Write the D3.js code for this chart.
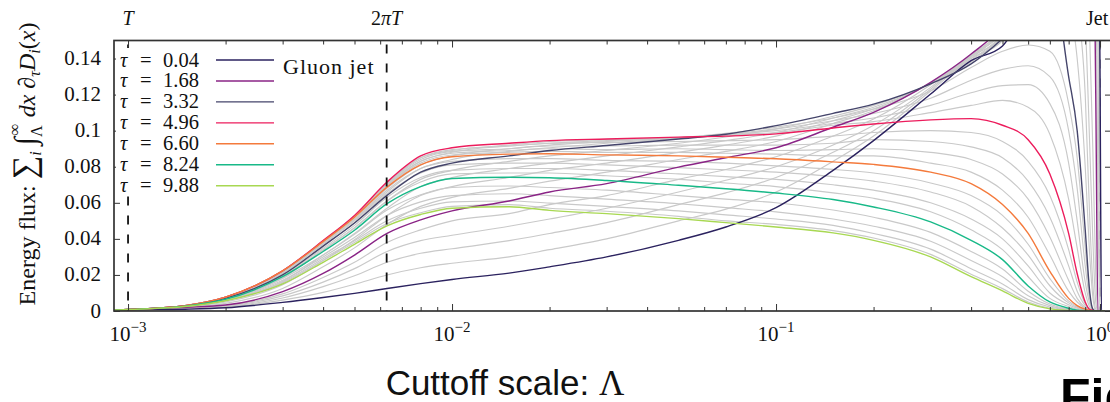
<!DOCTYPE html>
<html><head><meta charset="utf-8">
<script src="https://cdn.jsdelivr.net/npm/d3@7"></script>
<style>body{margin:0;background:#fff;} svg{display:block;}</style>
</head><body>
<svg id="chart" width="1110" height="402"></svg>
<script>
// Cutoff scale grid (Lambda)
const lambda = [0.0009, 0.001, 0.0015, 0.002, 0.003, 0.004, 0.005, 0.0063, 0.008, 0.01, 0.015, 0.02, 0.03, 0.05, 0.07, 0.1, 0.15, 0.2, 0.3, 0.4, 0.5, 0.6, 0.7, 0.8, 0.85, 0.9, 0.93, 0.95, 0.97, 0.985, 1.0, 1.01, 1.03];
const taus = [0.04, 0.37, 0.70, 1.02, 1.35, 1.68, 2.01, 2.34, 2.66, 2.99, 3.32, 3.65, 3.98, 4.30, 4.63, 4.96, 5.29, 5.62, 5.94, 6.27, 6.60, 6.93, 7.26, 7.58, 7.91, 8.24, 8.57, 8.90, 9.22, 9.55, 9.88];

const flux00 = [0.0004, 0.0006, 0.001, 0.0018, 0.0048, 0.0075, 0.0098, 0.0125, 0.0152, 0.0175, 0.021, 0.0245, 0.030, 0.0392, 0.0466, 0.0573, 0.078, 0.0945, 0.1203, 0.1388, 0.147, 0.17, 0.19, 0.21, 0.22, 0.23, 0.24, 0.25, 0.26, 0.26, 0.13, 0, 0];
const flux01 = [0.0004, 0.0006, 0.0012, 0.0021, 0.006, 0.0103, 0.0148, 0.020, 0.024, 0.0265, 0.030, 0.034, 0.040, 0.050, 0.0565, 0.066, 0.083, 0.097, 0.122, 0.140, 0.150, 0.172, 0.192, 0.21, 0.22, 0.23, 0.24, 0.25, 0.26, 0.25, 0.10, 0, 0];
const flux02 = [0.0004, 0.0007, 0.0014, 0.0024, 0.0072, 0.0135, 0.0195, 0.027, 0.032, 0.0345, 0.039, 0.043, 0.049, 0.059, 0.0655, 0.074, 0.088, 0.100, 0.123, 0.141, 0.152, 0.174, 0.194, 0.21, 0.22, 0.23, 0.24, 0.25, 0.26, 0.22, 0.05, 0, 0];
const flux03 = [0.0004, 0.0007, 0.0016, 0.0027, 0.0084, 0.016, 0.0235, 0.033, 0.039, 0.042, 0.047, 0.051, 0.057, 0.066, 0.0725, 0.080, 0.092, 0.103, 0.124, 0.1415, 0.154, 0.176, 0.196, 0.21, 0.22, 0.23, 0.24, 0.25, 0.25, 0.15, 0, 0, 0];
const flux04 = [0.0004, 0.0007, 0.0018, 0.003, 0.0095, 0.0186, 0.027, 0.038, 0.045, 0.050, 0.054, 0.059, 0.064, 0.073, 0.0785, 0.0855, 0.097, 0.1065, 0.1255, 0.142, 0.156, 0.178, 0.198, 0.215, 0.225, 0.235, 0.24, 0.24, 0.20, 0.06, 0, 0, 0];
const flux05 = [0.0004, 0.0008, 0.002, 0.0033, 0.0107, 0.0208, 0.031, 0.043, 0.0505, 0.0555, 0.061, 0.066, 0.0706, 0.0798, 0.085, 0.0905, 0.1019, 0.1102, 0.1268, 0.1425, 0.158, 0.18, 0.2, 0.22, 0.23, 0.24, 0.24, 0.24, 0.12, 0, 0, 0, 0];
const flux06 = [0.0004, 0.0008, 0.0021, 0.0042, 0.0125, 0.0245, 0.035, 0.048, 0.058, 0.063, 0.068, 0.072, 0.077, 0.084, 0.0885, 0.094, 0.104, 0.111, 0.1265, 0.141, 0.156, 0.175, 0.195, 0.21, 0.22, 0.2, 0.15, 0.09, 0.02, 0, 0, 0, 0];
const flux07 = [0.0004, 0.0008, 0.0023, 0.005, 0.0145, 0.028, 0.0395, 0.053, 0.064, 0.069, 0.074, 0.078, 0.082, 0.088, 0.092, 0.097, 0.1055, 0.112, 0.1263, 0.140, 0.155, 0.172, 0.19, 0.2, 0.2, 0.16, 0.09, 0.04, 0.005, 0, 0, 0, 0];
const flux08 = [0.0004, 0.0008, 0.0025, 0.0058, 0.0165, 0.031, 0.043, 0.057, 0.069, 0.074, 0.079, 0.082, 0.086, 0.091, 0.0945, 0.099, 0.107, 0.113, 0.126, 0.139, 0.153, 0.17, 0.19, 0.19, 0.17, 0.12, 0.05, 0.015, 0.001, 0, 0, 0, 0];
const flux09 = [0.0004, 0.0008, 0.0026, 0.0064, 0.0183, 0.0338, 0.0462, 0.061, 0.073, 0.078, 0.083, 0.086, 0.089, 0.093, 0.0965, 0.101, 0.108, 0.114, 0.126, 0.138, 0.152, 0.167, 0.19, 0.17, 0.14, 0.08, 0.03, 0.008, 0, 0, 0, 0, 0];
const flux10 = [0.0004, 0.0008, 0.0028, 0.007, 0.020, 0.036, 0.0488, 0.0641, 0.077, 0.082, 0.086, 0.089, 0.0918, 0.0954, 0.098, 0.1028, 0.1096, 0.1147, 0.126, 0.137, 0.151, 0.165, 0.19, 0.13, 0.10, 0.045, 0.01, 0.001, 0, 0, 0, 0, 0];
const flux11 = [0.0004, 0.0008, 0.0029, 0.0073, 0.021, 0.037, 0.050, 0.066, 0.079, 0.084, 0.0885, 0.0905, 0.093, 0.096, 0.0985, 0.102, 0.107, 0.112, 0.122, 0.135, 0.144, 0.1475, 0.144, 0.115, 0.085, 0.035, 0.008, 0.001, 0, 0, 0, 0, 0];
const flux12 = [0.0004, 0.0008, 0.003, 0.0075, 0.0215, 0.038, 0.051, 0.068, 0.081, 0.086, 0.090, 0.092, 0.094, 0.096, 0.098, 0.101, 0.1055, 0.1095, 0.118, 0.128, 0.134, 0.136, 0.130, 0.10, 0.068, 0.025, 0.006, 0.001, 0, 0, 0, 0, 0];
const flux13 = [0.0004, 0.0008, 0.003, 0.0076, 0.022, 0.0385, 0.052, 0.0695, 0.083, 0.088, 0.0915, 0.093, 0.0945, 0.096, 0.0978, 0.100, 0.104, 0.107, 0.114, 0.121, 0.125, 0.1255, 0.115, 0.082, 0.05, 0.016, 0.004, 0.0008, 0, 0, 0, 0, 0];
const flux14 = [0.0004, 0.0008, 0.003, 0.0077, 0.0222, 0.0388, 0.0525, 0.0705, 0.085, 0.089, 0.092, 0.094, 0.095, 0.0962, 0.0975, 0.099, 0.103, 0.105, 0.110, 0.114, 0.1168, 0.113, 0.098, 0.062, 0.035, 0.010, 0.002, 0.0005, 0, 0, 0, 0, 0];
const flux15 = [0.0004, 0.0008, 0.003, 0.0077, 0.0223, 0.039, 0.053, 0.0715, 0.086, 0.0905, 0.093, 0.0945, 0.0954, 0.0964, 0.097, 0.0982, 0.1015, 0.1037, 0.106, 0.1067, 0.103, 0.095, 0.076, 0.043, 0.0208, 0.005, 0.0008, 0.0003, 0, 0, 0, 0, 0];
const flux16 = [0.0004, 0.0008, 0.003, 0.0077, 0.0223, 0.039, 0.0528, 0.071, 0.085, 0.0895, 0.0915, 0.093, 0.0935, 0.094, 0.0945, 0.095, 0.097, 0.099, 0.100, 0.099, 0.094, 0.083, 0.064, 0.034, 0.016, 0.004, 0.0008, 0.0002, 0, 0, 0, 0, 0];
const flux17 = [0.0004, 0.0008, 0.003, 0.0077, 0.0223, 0.0388, 0.0526, 0.0705, 0.084, 0.0885, 0.090, 0.0915, 0.0915, 0.092, 0.092, 0.092, 0.093, 0.095, 0.094, 0.091, 0.085, 0.072, 0.052, 0.025, 0.011, 0.003, 0.0006, 0.0002, 0, 0, 0, 0, 0];
const flux18 = [0.0004, 0.0008, 0.003, 0.0077, 0.0222, 0.0387, 0.0524, 0.070, 0.083, 0.0875, 0.089, 0.090, 0.0895, 0.090, 0.0895, 0.089, 0.0895, 0.090, 0.088, 0.084, 0.076, 0.062, 0.041, 0.017, 0.007, 0.002, 0.0005, 0.0001, 0, 0, 0, 0, 0];
const flux19 = [0.0004, 0.0008, 0.003, 0.0077, 0.0222, 0.0386, 0.0522, 0.0695, 0.082, 0.0865, 0.088, 0.0885, 0.088, 0.088, 0.0875, 0.087, 0.086, 0.086, 0.082, 0.077, 0.067, 0.052, 0.031, 0.011, 0.005, 0.0015, 0.0004, 0.0001, 0, 0, 0, 0, 0];
const flux20 = [0.0004, 0.0008, 0.003, 0.0077, 0.0222, 0.0385, 0.052, 0.0687, 0.081, 0.0855, 0.087, 0.0872, 0.0866, 0.086, 0.0853, 0.0844, 0.0827, 0.0813, 0.077, 0.0706, 0.059, 0.043, 0.022, 0.007, 0.003, 0.001, 0.0003, 0.0001, 0, 0, 0, 0, 0];
const flux21 = [0.0004, 0.0008, 0.0029, 0.0075, 0.0215, 0.0375, 0.0505, 0.067, 0.079, 0.083, 0.0845, 0.0845, 0.0835, 0.083, 0.082, 0.0805, 0.0785, 0.0765, 0.071, 0.064, 0.053, 0.037, 0.018, 0.0055, 0.0025, 0.0008, 0.0002, 0, 0, 0, 0, 0, 0];
const flux22 = [0.0004, 0.0008, 0.0029, 0.0072, 0.0208, 0.036, 0.049, 0.065, 0.0765, 0.081, 0.082, 0.082, 0.081, 0.0795, 0.0783, 0.077, 0.0745, 0.072, 0.066, 0.058, 0.046, 0.031, 0.014, 0.0045, 0.002, 0.0006, 0.0001, 0, 0, 0, 0, 0, 0];
const flux23 = [0.0004, 0.0008, 0.0028, 0.0069, 0.0201, 0.0348, 0.0475, 0.063, 0.074, 0.078, 0.079, 0.079, 0.078, 0.076, 0.0745, 0.073, 0.070, 0.067, 0.060, 0.051, 0.040, 0.025, 0.010, 0.0035, 0.0015, 0.0005, 0.0001, 0, 0, 0, 0, 0, 0];
const flux24 = [0.0004, 0.0008, 0.0027, 0.0067, 0.0195, 0.0338, 0.046, 0.061, 0.0715, 0.076, 0.0765, 0.0765, 0.075, 0.073, 0.071, 0.069, 0.0655, 0.0625, 0.055, 0.045, 0.034, 0.019, 0.007, 0.0025, 0.001, 0.0003, 0, 0, 0, 0, 0, 0, 0];
const flux25 = [0.0004, 0.0008, 0.0027, 0.0065, 0.019, 0.033, 0.0448, 0.0595, 0.069, 0.0735, 0.0742, 0.0739, 0.0724, 0.0697, 0.0678, 0.0654, 0.0618, 0.0577, 0.0494, 0.0392, 0.0285, 0.0139, 0.005, 0.0015, 0.0005, 0.0002, 0, 0, 0, 0, 0, 0, 0];
const flux26 = [0.0004, 0.0008, 0.0026, 0.0063, 0.018, 0.031, 0.0425, 0.056, 0.0645, 0.0685, 0.0693, 0.0685, 0.067, 0.064, 0.062, 0.060, 0.056, 0.052, 0.0436, 0.033, 0.0233, 0.011, 0.0039, 0.0011, 0.0004, 0, 0, 0, 0, 0, 0, 0, 0];
const flux27 = [0.0004, 0.0008, 0.0026, 0.0061, 0.017, 0.030, 0.0408, 0.053, 0.0605, 0.064, 0.065, 0.064, 0.062, 0.0595, 0.0573, 0.055, 0.051, 0.047, 0.0387, 0.028, 0.019, 0.0085, 0.003, 0.0008, 0.0003, 0, 0, 0, 0, 0, 0, 0, 0];
const flux28 = [0.0004, 0.0008, 0.0025, 0.0059, 0.016, 0.029, 0.039, 0.050, 0.057, 0.0605, 0.061, 0.0598, 0.058, 0.0555, 0.0533, 0.051, 0.0475, 0.043, 0.0343, 0.0234, 0.015, 0.0063, 0.0022, 0.0005, 0.0002, 0, 0, 0, 0, 0, 0, 0, 0];
const flux29 = [0.0004, 0.0008, 0.0025, 0.0058, 0.0155, 0.028, 0.038, 0.0485, 0.0545, 0.058, 0.059, 0.057, 0.0553, 0.0525, 0.050, 0.048, 0.0446, 0.0405, 0.0314, 0.0204, 0.0124, 0.005, 0.0015, 0.0004, 0.0001, 0, 0, 0, 0, 0, 0, 0, 0];
const flux30 = [0.0004, 0.0008, 0.0025, 0.0057, 0.015, 0.027, 0.037, 0.0472, 0.0535, 0.057, 0.0578, 0.0558, 0.054, 0.0512, 0.049, 0.0466, 0.0433, 0.0392, 0.030, 0.019, 0.0112, 0.0042, 0.0012, 0.0003, 0, 0, 0, 0, 0, 0, 0, 0, 0];

const fluxSeries = [flux00, flux01, flux02, flux03, flux04, flux05, flux06, flux07, flux08, flux09, flux10,
  flux11, flux12, flux13, flux14, flux15, flux16, flux17, flux18, flux19, flux20,
  flux21, flux22, flux23, flux24, flux25, flux26, flux27, flux28, flux29, flux30];

const highlightIndex = [0, 5, 10, 15, 20, 25, 30];
const highlightLabels = ["0.04", "1.68", "3.32", "4.96", "6.60", "8.24", "9.88"];
const highlightColors = ["#2b225f", "#8a2486", "#45456b", "#ec1c5c", "#f47a3c", "#18b988", "#a8d852"];

const xMajorTicks = [1e-3, 1e-2, 1e-1, 1];
const xTickExponents = ["\u22123", "\u22122", "\u22121", "0"];
const yTicks = [0, 0.02, 0.04, 0.06, 0.08, 0.1, 0.12, 0.14];
const yTickLabels = ["0", "0.02", "0.04", "0.06", "0.08", "0.1", "0.12", "0.14"];
const scaleMarks = [0.001, 0.0062832, 1.0];

// ---------- drawing ----------
const L = 114, R = 1111, T = 40.5, B = 311;
const serif = "'Liberation Serif', 'Times New Roman', serif";
const sans = "'Liberation Sans', Arial, sans-serif";
const svg = d3.select("#chart");
const x = d3.scaleLog().domain([9.05e-4, 1.081]).range([L, R]);
const y = d3.scaleLinear().domain([0, 0.15]).range([B, T]);

svg.append("defs").append("clipPath").attr("id", "clip")
  .append("rect").attr("x", L).attr("y", T).attr("width", R - L).attr("height", B - T);

const plot = svg.append("g").attr("clip-path", "url(#clip)");

// jet scale line (under curves)
plot.append("line").attr("x1", x(scaleMarks[2])).attr("x2", x(scaleMarks[2]))
  .attr("y1", T).attr("y2", B).attr("stroke", "#8c8c8c").attr("stroke-width", 1.8)
  .attr("stroke-dasharray", "9,10");

const line = d3.line().x((d, i) => x(lambda[i])).y(d => y(d)).curve(d3.curveMonotoneX);

fluxSeries.forEach((s, k) => {
  if (highlightIndex.includes(k)) return;
  plot.append("path").attr("d", line(s)).attr("fill", "none")
    .attr("stroke", "#c9c9c9").attr("stroke-width", 1.15);
});
highlightIndex.forEach((k, j) => {
  plot.append("path").attr("d", line(fluxSeries[k])).attr("fill", "none")
    .attr("stroke", highlightColors[j]).attr("stroke-width", 1.4);
});

// T and 2piT dashed lines
[0, 1].forEach(i => {
  plot.append("line").attr("x1", x(scaleMarks[i])).attr("x2", x(scaleMarks[i]))
    .attr("y1", T).attr("y2", B).attr("stroke", "#111").attr("stroke-width", 1.8)
    .attr("stroke-dasharray", "9,10").attr("stroke-dashoffset", -4);
});

// axes ticks
const minor = [];
[1e-3, 1e-2, 1e-1].forEach(d => { for (let m = 2; m <= 9; m++) minor.push(d * m); });
const tickStyle = g => { g.select(".domain").remove(); g.selectAll("line").attr("stroke", "#333").attr("stroke-width", 1); g.selectAll("text").remove(); };
svg.append("g").attr("transform", `translate(0,${B})`).call(d3.axisBottom(x).tickValues(xMajorTicks).tickSize(-7).tickFormat("")).call(tickStyle);
svg.append("g").attr("transform", `translate(0,${B})`).call(d3.axisBottom(x).tickValues(minor).tickSize(-4).tickFormat("")).call(tickStyle);
svg.append("g").attr("transform", `translate(0,${T})`).call(d3.axisTop(x).tickValues(xMajorTicks).tickSize(-7).tickFormat("")).call(tickStyle);
svg.append("g").attr("transform", `translate(0,${T})`).call(d3.axisTop(x).tickValues(minor).tickSize(-4).tickFormat("")).call(tickStyle);
svg.append("g").attr("transform", `translate(${L},0)`).call(d3.axisLeft(y).tickValues(yTicks).tickSize(-6).tickFormat("")).call(tickStyle);
svg.append("g").attr("transform", `translate(${R},0)`).call(d3.axisRight(y).tickValues(yTicks).tickSize(-6).tickFormat("")).call(tickStyle);

// frame
svg.append("rect").attr("x", L).attr("y", T).attr("width", R - L).attr("height", B - T)
  .attr("fill", "none").attr("stroke", "#333").attr("stroke-width", 1.7);

// y tick labels
yTicks.forEach((v, i) => {
  svg.append("text").attr("x", 101).attr("y", y(v) + 6.5).attr("text-anchor", "end")
    .style("font-family", serif).style("font-size", "21px").attr("fill", "#111").text(yTickLabels[i]);
});

// x tick labels 10^n
xMajorTicks.forEach((v, i) => {
  const t = svg.append("text").attr("x", x(v)).attr("y", 341).attr("text-anchor", "middle")
    .style("font-family", serif).style("font-size", "21px").attr("fill", "#111");
  t.append("tspan").text("10");
  t.append("tspan").attr("dy", -9).style("font-size", "15px").text(xTickExponents[i]);
});

// top labels
svg.append("text").attr("x", x(scaleMarks[0])).attr("y", 25).attr("text-anchor", "middle")
  .style("font-family", serif).style("font-size", "20px").style("font-style", "italic").attr("fill", "#111").text("T");
const t2 = svg.append("text").attr("x", x(scaleMarks[1])).attr("y", 25).attr("text-anchor", "middle")
  .style("font-family", serif).style("font-size", "20px").attr("fill", "#111");
t2.append("tspan").text("2");
t2.append("tspan").style("font-style", "italic").text("\u03C0T");
svg.append("text").attr("x", 1086).attr("y", 25)
  .style("font-family", serif).style("font-size", "20px").attr("fill", "#111").text("Jet");

// legend (white background hides T line)
svg.append("rect").attr("x", 116).attr("y", 48).attr("width", 164).attr("height", 148).attr("fill", "#fff");
highlightLabels.forEach((lab, j) => {
  const ry = 60 + j * 20.95;
  const t = svg.append("text").attr("y", ry + 6.5).style("font-family", serif)
    .style("font-size", "20.5px").attr("fill", "#111");
  t.append("tspan").attr("x", 120).style("font-style", "italic").text("\u03C4");
  t.append("tspan").attr("x", 140).text("=");
  t.append("tspan").attr("x", 163).text(lab);
  svg.append("line").attr("x1", 216).attr("x2", 274).attr("y1", ry).attr("y2", ry)
    .attr("stroke", highlightColors[j]).attr("stroke-width", 1.4);
});
svg.append("text").attr("x", 283).attr("y", 74).style("font-family", serif)
  .style("font-size", "22px").style("letter-spacing", "1px").attr("fill", "#111").text("Gluon jet");

// y axis label
const yl = svg.append("text").attr("transform", "translate(35,164) rotate(-90)")
  .attr("text-anchor", "middle").style("font-family", serif).style("font-size", "24px").attr("fill", "#111");
yl.append("tspan").text("Energy flux: ");
yl.append("tspan").style("font-size", "33px").text("\u2211");
yl.append("tspan").style("font-size", "16px").style("font-style", "italic").attr("dy", 6).text("i");
yl.append("tspan").attr("dy", -6).text(" ");
yl.append("tspan").style("font-size", "30px").text("\u222B");
yl.append("tspan").style("font-size", "16px").attr("dy", 7).text("\u039B");
yl.append("tspan").style("font-size", "17px").attr("dx", -10).attr("dy", -22).text("\u221E");
yl.append("tspan").attr("dy", 15).style("font-style", "italic").text(" dx ");
yl.append("tspan").text("\u2202");
yl.append("tspan").style("font-size", "16px").style("font-style", "italic").attr("dy", 5).text("\u03C4");
yl.append("tspan").attr("dy", -5).style("font-style", "italic").text("D");
yl.append("tspan").style("font-size", "16px").style("font-style", "italic").attr("dy", 5).text("i");
yl.append("tspan").attr("dy", -5).text("(");
yl.append("tspan").style("font-style", "italic").text("x");
yl.append("tspan").text(")");

// x axis title
const xt = svg.append("text").attr("x", 505).attr("y", 395).attr("text-anchor", "middle")
  .style("font-family", sans).style("font-size", "35px").attr("fill", "#111");
xt.append("tspan").text("Cuttoff scale: ");
xt.append("tspan").style("font-family", serif).text("\u039B");

// partial caption glyph at bottom right
svg.append("text").attr("x", 1060).attr("y", 414).style("font-family", sans)
  .style("font-size", "50px").style("font-weight", "bold").attr("fill", "#000").text("Fig");
</script>
</body></html>
